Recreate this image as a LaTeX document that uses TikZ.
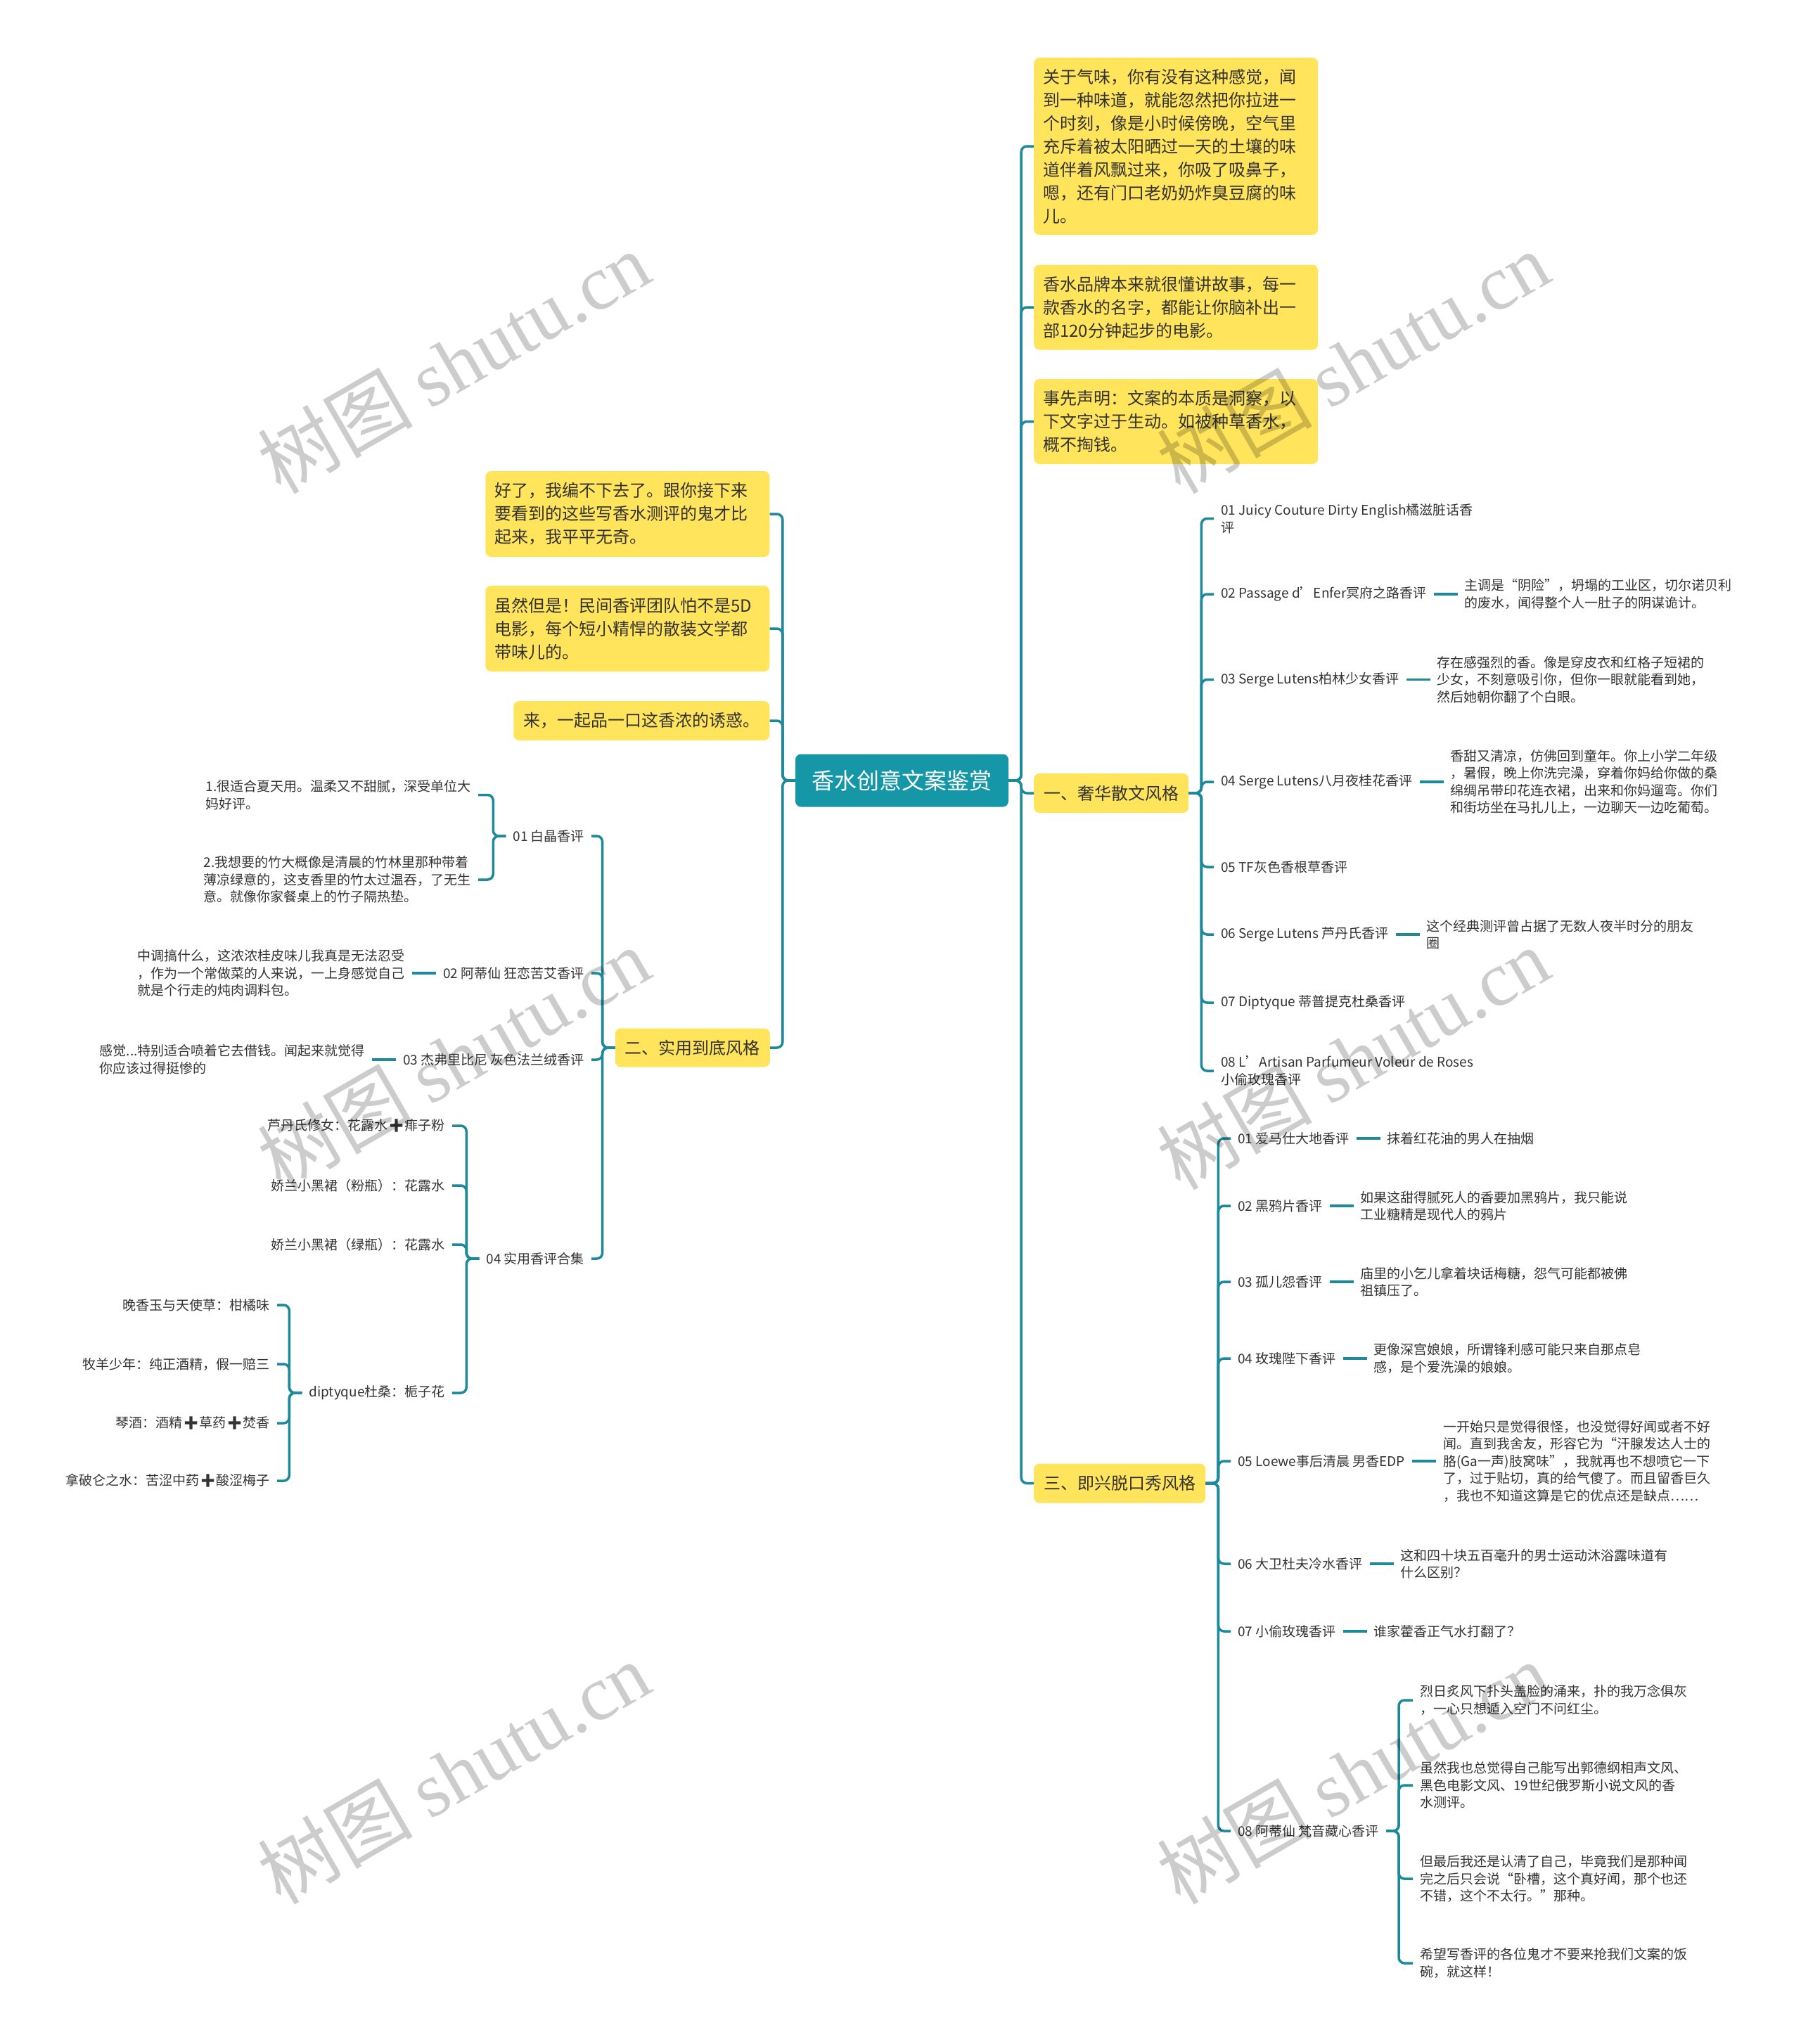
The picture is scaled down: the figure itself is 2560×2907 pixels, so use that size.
\documentclass[tikz,border=0pt]{standalone}
\usepackage{fontspec}
\setmainfont{Noto Sans CJK SC}
\newfontfamily\emojifont{Noto Emoji}
\newfontfamily\markfont{Liberation Serif}
\usepackage{xcolor}
\usepackage{tikz}
\usetikzlibrary{positioning}
\definecolor{rootteal}{HTML}{1597A8}
\definecolor{lineteal}{HTML}{1C8A9B}
\definecolor{noteyellow}{HTML}{FFE45C}
\definecolor{ink}{HTML}{333333}
\newcommand{\addmark}{{\emojifont ➕}}
\tikzset{
  rootbox/.style={
    rounded corners=8pt,fill=rootteal,text=white,
    minimum width=303pt,minimum height=75pt,inner sep=0pt,
    font=\fontsize{32}{38}\selectfont
  },
  notebox/.style={
    rounded corners=8pt,fill=noteyellow,text=ink,
    text width=378pt,align=left,inner xsep=13pt,inner ysep=2pt,
    font=\fontsize{24}{33}\selectfont
  },
  topicbox/.style={
    rounded corners=8pt,fill=noteyellow,text=ink,
    inner xsep=14pt,minimum height=56pt,
    font=\fontsize{24}{30}\selectfont
  },
  leaf/.style={
    text=ink,align=left,inner xsep=10pt,inner ysep=2pt,
    font=\fontsize{19}{24.5}\selectfont
  },
  link/.style={draw=lineteal,line width=3.5pt,rounded corners=8pt},
  tie/.style={draw=lineteal,line width=3.5pt},
  wmark/.style={text=black,text opacity=.2,rotate=30,
    font=\fontsize{110}{120}\selectfont}
}

\begin{document}
\begin{tikzpicture}[x=1pt,y=-1pt]
\useasboundingbox (0,0) rectangle (2560,2907);
\fill[white] (0,0) rectangle (2560,2907);

\node[rootbox] (root) at (1282.5,1110) {香水创意文案鉴赏};

% right side
\node[notebox,anchor=west,minimum height=252pt] (smell) at (1470,208) {关于气味，你有没有这种感觉，闻\\到一种味道，就能忽然把你拉进一\\个时刻，像是小时候傍晚，空气里\\充斥着被太阳晒过一天的土壤的味\\道伴着风飘过来，你吸了吸鼻子，\\嗯，还有门口老奶奶炸臭豆腐的味\\儿。};
\node[notebox,anchor=west,minimum height=121pt] (brand) at (1470,437) {香水品牌本来就很懂讲故事，每一\\款香水的名字，都能让你脑补出一\\部120分钟起步的电影。};
\node[notebox,anchor=west,minimum height=121pt] (notice) at (1470,599.5) {事先声明：文案的本质是洞察，以\\下文字过于生动。如被种草香水，\\概不掏钱。};
\node[topicbox,anchor=west] (prose) at (1470,1128) {一、奢华散文风格};
\node[topicbox,anchor=west] (talk) at (1470,2109.5) {三、即兴脱口秀风格};

\node[leaf,anchor=west] (p01) at (1726,737.5) {01 Juicy Couture Dirty English橘滋脏话香\\评};
\node[leaf,anchor=west] (p02) at (1726,845) {02 Passage d’Enfer冥府之路香评};
\node[leaf,anchor=west] (p03) at (1726,966.5) {03 Serge Lutens柏林少女香评};
\node[leaf,anchor=west] (p04) at (1726,1112) {04 Serge Lutens八月夜桂花香评};
\node[leaf,anchor=west] (p05) at (1726,1233) {05 TF灰色香根草香评};
\node[leaf,anchor=west] (p06) at (1726,1329) {06 Serge Lutens 芦丹氏香评};
\node[leaf,anchor=west] (p07) at (1726,1426) {07 Diptyque 蒂普提克杜桑香评};
\node[leaf,anchor=west] (p08) at (1726,1523) {08 L’Artisan Parfumeur Voleur de Roses\\小偷玫瑰香评};
\node[leaf,right=34pt of p02] (p02d) {主调是“阴险”，坍塌的工业区，切尔诺贝利\\的废水，闻得整个人一肚子的阴谋诡计。};
\node[leaf,right=34pt of p03] (p03d) {存在感强烈的香。像是穿皮衣和红格子短裙的\\少女，不刻意吸引你，但你一眼就能看到她，\\然后她朝你翻了个白眼。};
\node[leaf,right=34pt of p04] (p04d) {香甜又清凉，仿佛回到童年。你上小学二年级\\，暑假，晚上你洗完澡，穿着你妈给你做的桑\\绵绸吊带印花连衣裙，出来和你妈遛弯。你们\\和街坊坐在马扎儿上，一边聊天一边吃葡萄。};
\node[leaf,right=34pt of p06] (p06d) {这个经典测评曾占据了无数人夜半时分的朋友\\圈};

\node[leaf,anchor=west] (q01) at (1750,1619) {01 爱马仕大地香评};
\node[leaf,anchor=west] (q02) at (1750,1715) {02 黑鸦片香评};
\node[leaf,anchor=west] (q03) at (1750,1823) {03 孤儿怨香评};
\node[leaf,anchor=west] (q04) at (1750,1932) {04 玫瑰陛下香评};
\node[leaf,anchor=west] (q05) at (1750,2078) {05 Loewe事后清晨 男香EDP};
\node[leaf,anchor=west] (q06) at (1750,2224) {06 大卫杜夫冷水香评};
\node[leaf,anchor=west] (q07) at (1750,2320) {07 小偷玫瑰香评};
\node[leaf,anchor=west] (q08) at (1750,2604) {08 阿蒂仙 梵音藏心香评};
\node[leaf,right=34pt of q01] (q01d) {抹着红花油的男人在抽烟};
\node[leaf,right=34pt of q02] (q02d) {如果这甜得腻死人的香要加黑鸦片，我只能说\\工业糖精是现代人的鸦片};
\node[leaf,right=34pt of q03] (q03d) {庙里的小乞儿拿着块话梅糖，怨气可能都被佛\\祖镇压了。};
\node[leaf,right=34pt of q04] (q04d) {更像深宫娘娘，所谓锋利感可能只来自那点皂\\感，是个爱洗澡的娘娘。};
\node[leaf,right=34pt of q05] (q05d) {一开始只是觉得很怪，也没觉得好闻或者不好\\闻。直到我舍友，形容它为“汗腺发达人士的\\胳(Ga一声)肢窝味”，我就再也不想喷它一下\\了，过于贴切，真的给气傻了。而且留香巨久\\，我也不知道这算是它的优点还是缺点……};
\node[leaf,right=34pt of q06] (q06d) {这和四十块五百毫升的男士运动沐浴露味道有\\什么区别？};
\node[leaf,right=34pt of q07] (q07d) {谁家藿香正气水打翻了？};
\node[leaf,anchor=west] (q08a) at (2009,2418) {烈日炙风下扑头盖脸的涌来，扑的我万念俱灰\\，一心只想遁入空门不问红尘。};
\node[leaf,anchor=west] (q08b) at (2009,2539) {虽然我也总觉得自己能写出郭德纲相声文风、\\黑色电影文风、19世纪俄罗斯小说文风的香\\水测评。};
\node[leaf,anchor=west] (q08c) at (2009,2672) {但最后我还是认清了自己，毕竟我们是那种闻\\完之后只会说“卧槽，这个真好闻，那个也还\\不错，这个不太行。”那种。};
\node[leaf,anchor=west] (q08d) at (2009,2792) {希望写香评的各位鬼才不要来抢我们文案的饭\\碗，就这样！};

% left side
\node[notebox,anchor=east,minimum height=122pt] (giveup) at (1094.5,731) {好了，我编不下去了。跟你接下来\\要看到的这些写香水测评的鬼才比\\起来，我平平无奇。};
\node[notebox,anchor=east,minimum height=122pt] (folk) at (1094.5,894) {虽然但是！民间香评团队怕不是5D\\电影，每个短小精悍的散装文学都\\带味儿的。};
\node[topicbox,anchor=east] (taste) at (1094.5,1025) {来，一起品一口这香浓的诱惑。};
\node[topicbox,anchor=east,minimum height=55pt] (useful) at (1095,1490) {二、实用到底风格};

\node[leaf,anchor=east] (u01) at (841,1189) {01 白晶香评};
\node[leaf,anchor=east] (u02) at (841,1384) {02 阿蒂仙 狂恋苦艾香评};
\node[leaf,anchor=east] (u03) at (841,1507) {03 杰弗里比尼 灰色法兰绒香评};
\node[leaf,anchor=east] (u04) at (841,1790) {04 实用香评合集};
\node[leaf,anchor=east] (u01a) at (680,1130.5) {1.很适合夏天用。温柔又不甜腻，深受单位大\\妈好评。};
\node[leaf,anchor=east] (u01b) at (680,1251) {2.我想要的竹大概像是清晨的竹林里那种带着\\薄凉绿意的，这支香里的竹太过温吞，了无生\\意。就像你家餐桌上的竹子隔热垫。};
\node[leaf,left=34pt of u02] (u02d) {中调搞什么，这浓浓桂皮味儿我真是无法忍受\\，作为一个常做菜的人来说，一上身感觉自己\\就是个行走的炖肉调料包。};
\node[leaf,left=34pt of u03] (u03d) {感觉...特别适合喷着它去借钱。闻起来就觉得\\你应该过得挺惨的};
\node[leaf,anchor=east] (u04a) at (643,1601) {芦丹氏修女：花露水\addmark 痱子粉};
\node[leaf,anchor=east] (u04b) at (643,1686) {娇兰小黑裙（粉瓶）：花露水};
\node[leaf,anchor=east] (u04c) at (643,1770) {娇兰小黑裙（绿瓶）：花露水};
\node[leaf,anchor=east] (u04d) at (643,1981) {diptyque杜桑：栀子花};
\node[leaf,anchor=east] (u04e) at (394,1856) {晚香玉与天使草：柑橘味};
\node[leaf,anchor=east] (u04f) at (394,1940) {牧羊少年：纯正酒精，假一赔三};
\node[leaf,anchor=east] (u04g) at (394,2024) {琴酒：酒精\addmark 草药\addmark 焚香};
\node[leaf,anchor=east] (u04h) at (394,2106) {拿破仑之水：苦涩中药\addmark 酸涩梅子};

% connectors
\draw[link] (root.east) -- ++(18,0) |- (smell.west);
\draw[link] (root.east) -- ++(18,0) |- (brand.west);
\draw[link] (root.east) -- ++(18,0) |- (notice.west);
\draw[link] (root.east) -- ++(18,0) |- (prose.west);
\draw[link] (root.east) -- ++(18,0) |- (talk.west);
\draw[link] (root.west) -- ++(-18,0) |- (giveup.east);
\draw[link] (root.west) -- ++(-18,0) |- (folk.east);
\draw[link] (root.west) -- ++(-18,0) |- (taste.east);
\draw[link] (root.west) -- ++(-18,0) |- (useful.east);

\draw[link] (prose.east) -- ++(18,0) |- (p01.west);
\draw[link] (prose.east) -- ++(18,0) |- (p02.west);
\draw[link] (prose.east) -- ++(18,0) |- (p03.west);
\draw[link] (prose.east) -- ++(18,0) |- (p04.west);
\draw[link] (prose.east) -- ++(18,0) |- (p05.west);
\draw[link] (prose.east) -- ++(18,0) |- (p06.west);
\draw[link] (prose.east) -- ++(18,0) |- (p07.west);
\draw[link] (prose.east) -- ++(18,0) |- (p08.west);
\draw[tie] (p02.east) -- (p02d.west);
\draw[tie] (p03.east) -- (p03d.west);
\draw[tie] (p04.east) -- (p04d.west);
\draw[tie] (p06.east) -- (p06d.west);

\draw[link] (talk.east) -- ++(18,0) |- (q01.west);
\draw[link] (talk.east) -- ++(18,0) |- (q02.west);
\draw[link] (talk.east) -- ++(18,0) |- (q03.west);
\draw[link] (talk.east) -- ++(18,0) |- (q04.west);
\draw[link] (talk.east) -- ++(18,0) |- (q05.west);
\draw[link] (talk.east) -- ++(18,0) |- (q06.west);
\draw[link] (talk.east) -- ++(18,0) |- (q07.west);
\draw[link] (talk.east) -- ++(18,0) |- (q08.west);
\draw[tie] (q01.east) -- (q01d.west);
\draw[tie] (q02.east) -- (q02d.west);
\draw[tie] (q03.east) -- (q03d.west);
\draw[tie] (q04.east) -- (q04d.west);
\draw[tie] (q05.east) -- (q05d.west);
\draw[tie] (q06.east) -- (q06d.west);
\draw[tie] (q07.east) -- (q07d.west);
\draw[link] (q08.east) -- ++(18,0) |- (q08a.west);
\draw[link] (q08.east) -- ++(18,0) |- (q08b.west);
\draw[link] (q08.east) -- ++(18,0) |- (q08c.west);
\draw[link] (q08.east) -- ++(18,0) |- (q08d.west);

\draw[link] (useful.west) -- ++(-18,0) |- (u01.east);
\draw[link] (useful.west) -- ++(-18,0) |- (u02.east);
\draw[link] (useful.west) -- ++(-18,0) |- (u03.east);
\draw[link] (useful.west) -- ++(-18,0) |- (u04.east);
\draw[link] (u01.west) -- ++(-18,0) |- (u01a.east);
\draw[link] (u01.west) -- ++(-18,0) |- (u01b.east);
\draw[tie] (u02.west) -- (u02d.east);
\draw[tie] (u03.west) -- (u03d.east);
\draw[link] (u04.west) -- ++(-18,0) |- (u04a.east);
\draw[link] (u04.west) -- ++(-18,0) |- (u04b.east);
\draw[link] (u04.west) -- ++(-18,0) |- (u04c.east);
\draw[link] (u04.west) -- ++(-18,0) |- (u04d.east);
\draw[link] (u04d.west) -- ++(-18,0) |- (u04e.east);
\draw[link] (u04d.west) -- ++(-18,0) |- (u04f.east);
\draw[link] (u04d.west) -- ++(-18,0) |- (u04g.east);
\draw[link] (u04d.west) -- ++(-18,0) |- (u04h.east);

% watermarks
\node[wmark] (mark1) at (645,515) {树图 {\markfont shutu.cn}};
\node[wmark] (mark2) at (1924,515) {树图 {\markfont shutu.cn}};
\node[wmark] (mark3) at (645,1505) {树图 {\markfont shutu.cn}};
\node[wmark] (mark4) at (1924,1505) {树图 {\markfont shutu.cn}};
\node[wmark] (mark5) at (645,2521) {树图 {\markfont shutu.cn}};
\node[wmark] (mark6) at (1924,2521) {树图 {\markfont shutu.cn}};
\end{tikzpicture}
\end{document}
